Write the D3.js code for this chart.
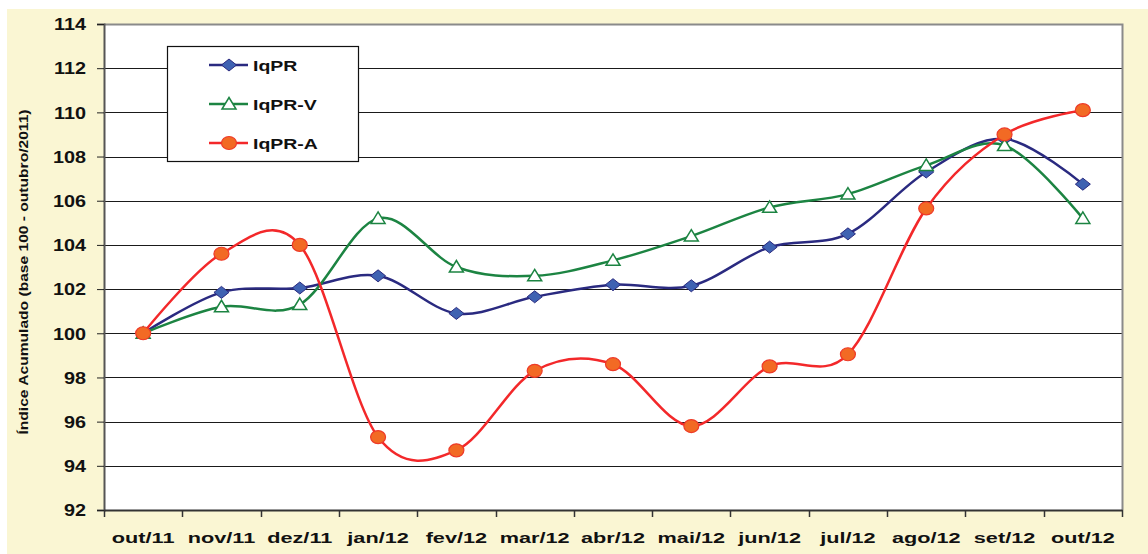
<!DOCTYPE html>
<html><head><meta charset="utf-8">
<script src="https://cdn.jsdelivr.net/npm/d3@7"></script>
<style>body{margin:0;background:#fff}svg{display:block}</style>
</head><body>
<svg id="c" width="1148" height="554"></svg>
<script>
const categories = ["out/11","nov/11","dez/11","jan/12","fev/12","mar/12","abr/12","mai/12","jun/12","jul/12","ago/12","set/12","out/12"];
const iqpr   = [100, 101.85, 102.05, 102.6, 100.9, 101.65, 102.2, 102.15, 103.9, 104.5, 107.3, 108.8, 106.75];
const iqprV  = [100, 101.2, 101.3, 105.2, 103.0, 102.6, 103.3, 104.4, 105.7, 106.3, 107.6, 108.5, 105.2];
const iqprA  = [100, 103.6, 104.0, 95.3, 94.7, 98.3, 98.6, 95.8, 98.5, 99.05, 105.65, 109.0, 110.1];
const yTicks = [92,94,96,98,100,102,104,106,108,110,112,114];
const seriesNames = ["IqPR","IqPR-V","IqPR-A"];
const yTitle = "Índice Acumulado (base 100 - outubro/2011)";

const svg = d3.select("#c");
const L=104, R=1122, T=24, B=510;
const FONT = "'Liberation Sans', Arial, sans-serif";

svg.append("rect").attr("x",7).attr("y",9).attr("width",1141).attr("height",545).attr("fill","#FAF6D3");
svg.append("rect").attr("x",L).attr("y",T).attr("width",R-L).attr("height",B-T).attr("fill","#fff");

const x = d3.scaleBand().domain(categories).range([L,R]);
const y = d3.scaleLinear().domain([92,114]).range([B,T]);
const cx = c => x(c)+x.bandwidth()/2;

// gridlines
svg.append("g").selectAll("line").data(yTicks.filter(v=>v>92 && v<114)).join("line")
  .attr("x1",L).attr("x2",R).attr("y1",d=>Math.round(y(d))+0.5).attr("y2",d=>Math.round(y(d))+0.5)
  .attr("stroke","#1a1a1a").attr("stroke-width",1.2);
// top & right border
svg.append("path").attr("d",`M${L},${T+0.5}H${R+0.5}V${B}`).attr("fill","none").attr("stroke","#8a8a8a").attr("stroke-width",2);

// y axis
const yAxis = svg.append("g").attr("transform",`translate(${L},0)`).call(d3.axisLeft(y).tickValues(yTicks).tickSize(7).tickPadding(0).tickFormat(d3.format("d")));
yAxis.select(".domain").attr("stroke","#555").attr("stroke-width",2);
yAxis.selectAll(".tick line").attr("stroke","#222");
yAxis.selectAll(".tick text").attr("font-family",FONT).attr("font-weight","bold").attr("font-size",16).attr("fill","#111")
  .attr("x",0).attr("text-anchor","end").attr("dy","0.36em")
  .attr("transform","translate(-18,0) scale(1.24,1)");

// x axis
const xAxis = svg.append("g").attr("transform",`translate(0,${B})`).call(d3.axisBottom(x).tickSize(0).tickPadding(0));
xAxis.select(".domain").attr("stroke","#333").attr("stroke-width",2);
xAxis.selectAll(".tick text").attr("font-family",FONT).attr("font-weight","bold").attr("font-size",15.5).attr("fill","#111")
  .attr("y",0).attr("dy",0).attr("transform","translate(0,33) scale(1.4,1)");
// boundary ticks
const bounds = categories.map(c=>x(c)).concat([R]);
svg.append("g").selectAll("line").data(bounds).join("line")
  .attr("x1",d=>Math.round(d)+0.5).attr("x2",d=>Math.round(d)+0.5).attr("y1",B).attr("y2",B+7).attr("stroke","#333").attr("stroke-width",1.5);

// y title
svg.append("text").attr("transform",`translate(28,${(107+437)/2}) rotate(-90)`)
  .attr("text-anchor","middle").attr("font-family",FONT).attr("font-weight","bold").attr("font-size",13)
  .attr("textLength",325).attr("lengthAdjust","spacingAndGlyphs").attr("fill","#111").text(yTitle);

const line = d3.line().x((d,i)=>cx(categories[i])).y(d=>y(d)).curve(d3.curveCatmullRom.alpha(0));

const styles = [
  {data:iqpr, stroke:"#2A2A80", fill:"#3F62B2", mstroke:"#2A2A80", shape:"diamond"},
  {data:iqprV, stroke:"#1C8442", fill:"#ffffff", mstroke:"#1C8442", shape:"triangle"},
  {data:iqprA, stroke:"#F3282A", fill:"#F26A24", mstroke:"#EE3A28", shape:"circle"}
];
function marker(g, shape, fill, stroke){
  if(shape==="diamond") g.append("path").attr("d","M0,-6L7.5,0L0,6L-7.5,0Z").attr("fill",fill).attr("stroke",stroke).attr("stroke-width",1);
  else if(shape==="triangle") g.append("path").attr("d","M0,-6.5L7,5L-7,5Z").attr("fill",fill).attr("stroke",stroke).attr("stroke-width",1.5);
  else g.append("ellipse").attr("rx",7.5).attr("ry",6.5).attr("fill",fill).attr("stroke",stroke).attr("stroke-width",1.2);
}
styles.forEach(s=>{
  svg.append("path").datum(s.data).attr("d",line).attr("fill","none").attr("stroke",s.stroke).attr("stroke-width",2.5);
  s.data.forEach((v,i)=>{
    const g = svg.append("g").attr("transform",`translate(${cx(categories[i])},${y(v)})`);
    marker(g, s.shape, s.fill, s.mstroke);
  });
});

// legend
svg.append("rect").attr("x",167.5).attr("y",46.5).attr("width",191).attr("height",115).attr("fill","#fff").attr("stroke","#111").attr("stroke-width",1.2);
const rowsY=[65,104,143];
styles.forEach((s,i)=>{
  const yy = rowsY[i];
  svg.append("line").attr("x1",209).attr("x2",248).attr("y1",yy).attr("y2",yy).attr("stroke",s.stroke).attr("stroke-width",2.5);
  const g = svg.append("g").attr("transform",`translate(229,${yy})`);
  marker(g, s.shape, s.fill, s.mstroke);
  svg.append("text").attr("x",0).attr("y",0).attr("transform",`translate(253,${yy+5.5}) scale(1.3,1)`)
    .attr("font-family",FONT).attr("font-weight","bold").attr("font-size",15).attr("fill","#111").text(seriesNames[i]);
});
</script>
</body></html>
